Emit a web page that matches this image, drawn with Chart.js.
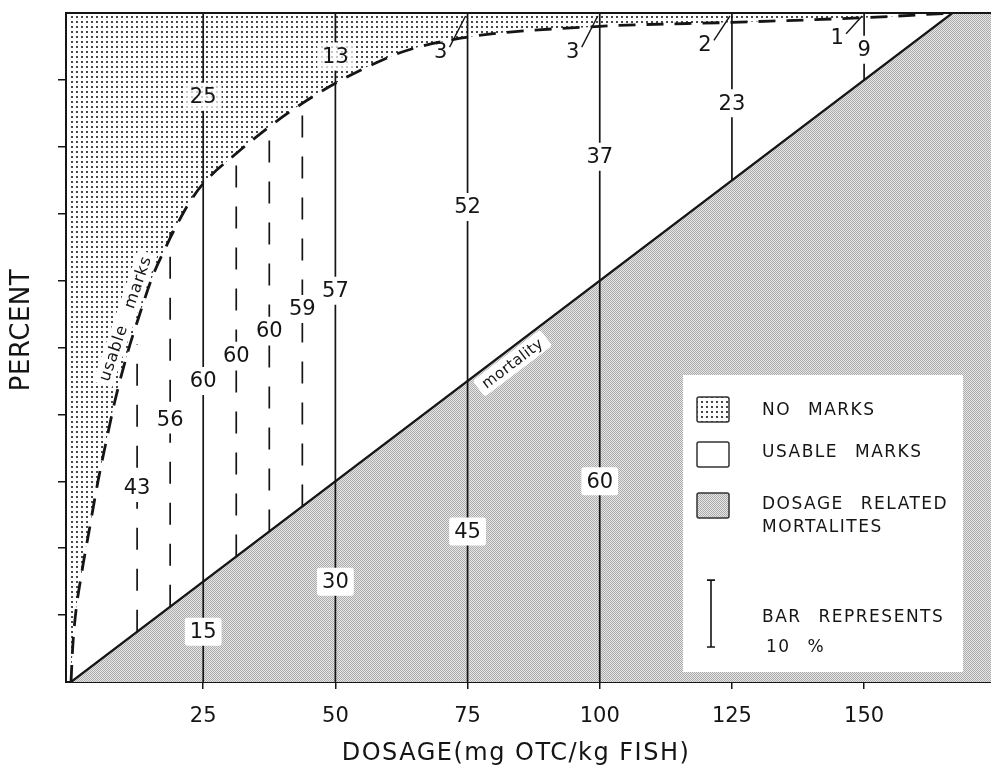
<!DOCTYPE html>
<html>
<head>
<meta charset="utf-8">
<script src="https://cdn.jsdelivr.net/npm/chart.js@4.4.1/dist/chart.umd.min.js"></script>
<style>
  html, body { margin: 0; padding: 0; background: #fff; }
</style>
</head>
<body>
<canvas id="chart" width="991" height="769"></canvas>
<script>
// doses with a solid bar (mg OTC / kg fish) and the percent split at each
const solidDoses = [25, 50, 75, 100, 125, 150];
const solidMortality = [15, 30, 45, 60, 75, 90];
const mortalityShown = [true, true, true, true, false, false];
const solidUsable = [60, 57, 52, 37, 23, 9];
const solidNoMarks = [25, 13, 3, 3, 2, 1];

// in-between doses with a dashed bar
const dashedDoses = [12.5, 18.75, 31.25, 37.5, 43.75];
const dashedMortality = [7.5, 11.25, 18.75, 22.5, 26.25];
const dashedUsable = [43, 56, 60, 60, 59];

// upper edge of "usable marks" as drawn
const edgeDose = [0, 0.3, 0.8, 2.1, 3.4, 5.1, 6.8, 8.3, 10.8, 13, 15.5, 17.8, 20, 22.1, 25, 31.25, 37.5, 43.75, 50, 57, 63.5, 75, 100, 125, 150, 166.7];
const edgePct = [0, 5, 9.7, 16.7, 22.5, 30, 36.5, 42, 49.5, 55, 60.8, 64.8, 68.3, 71.3, 74.5, 79, 83, 86.5, 89.5, 92.3, 94.4, 96.4, 98, 98.6, 99.3, 100];

// mortality line
const mortDose = [0, 166.7, 175];
const mortPct = [0, 100, 100];

const xTicks = [25, 50, 75, 100, 125, 150];
const yTicks = [10, 20, 30, 40, 50, 60, 70, 80, 90];

const INK = '#151515';
const FONT = '"DejaVu Sans", sans-serif';

function tile(size, paint) {
  const c = document.createElement('canvas');
  c.width = size; c.height = size;
  const g = c.getContext('2d');
  paint(g);
  return g.createPattern(c, 'repeat');
}
const dots = tile(5, g => {
  g.fillStyle = '#fff'; g.fillRect(0, 0, 5, 5);
  g.fillStyle = '#474747'; g.fillRect(1, 1, 2, 2);
});
const stipple = tile(2, g => {
  g.fillStyle = '#e6e6e6'; g.fillRect(0, 0, 2, 2);
  g.fillStyle = '#acacac'; g.fillRect(0, 0, 1, 1); g.fillRect(1, 1, 1, 1);
});

const pts = (xs, ys) => xs.map((v, i) => ({ x: v, y: ys[i] }));

const datasets = [
  {
    data: pts(edgeDose, edgePct),
    borderColor: INK, borderWidth: 2.8, borderDash: [17, 11],
    cubicInterpolationMode: 'monotone',
    fill: 'end', backgroundColor: dots
  },
  {
    data: pts(mortDose, mortPct),
    borderColor: INK, borderWidth: 2.2,
    fill: 'start', backgroundColor: stipple
  }
];
solidDoses.forEach((d, i) => {
  const bottom = mortalityShown[i] ? 0 : solidMortality[i];
  datasets.push({
    data: [{ x: d, y: bottom }, { x: d, y: 100 }],
    borderColor: INK, borderWidth: 1.7, fill: false
  });
});
dashedDoses.forEach((d, i) => {
  datasets.push({
    data: [{ x: d, y: dashedMortality[i] }, { x: d, y: dashedMortality[i] + dashedUsable[i] }],
    borderColor: INK, borderWidth: 1.7, borderDash: [22, 19], fill: false
  });
});

function label(ctx, text, px, py, bg) {
  ctx.save();
  ctx.font = '21px ' + FONT;
  const w = ctx.measureText(text).width + 10, h = 28;
  if (bg) {
    ctx.fillStyle = '#fff';
    ctx.beginPath();
    ctx.roundRect(px - w / 2, py - h / 2, w, h, 3);
    ctx.fill();
    if (bg === 'faded') {
      ctx.globalAlpha = 0.3;
      ctx.fillStyle = dots;
      ctx.fill();
      ctx.globalAlpha = 1;
    }
  }
  ctx.fillStyle = INK;
  ctx.textAlign = 'center';
  ctx.textBaseline = 'middle';
  ctx.fillText(text, px, py + 1);
  ctx.restore();
}

const decor = {
  id: 'decor',
  beforeDatasetsDraw(chart) {
    const { ctx, scales: { x, y } } = chart;
    // "usable marks" written along the edge
    ctx.save();
    ctx.translate(x.getPixelForValue(10.4), y.getPixelForValue(54.3));
    ctx.rotate(-71 * Math.PI / 180);
    ctx.font = '16px ' + FONT;
    ctx.letterSpacing = '1px';
    const t = 'usable   marks';
    const w = ctx.measureText(t).width;
    ctx.fillStyle = '#fff';
    ctx.fillRect(-w / 2 - 4, -11, w + 8, 20);
    ctx.fillStyle = INK;
    ctx.textAlign = 'center';
    ctx.textBaseline = 'middle';
    ctx.fillText(t, 0, 0);
    ctx.restore();
  },
  afterDatasetsDraw(chart) {
    const { ctx, chartArea: a, scales: { x, y } } = chart;

    // top frame line
    ctx.save();
    ctx.strokeStyle = INK; ctx.lineWidth = 2;
    ctx.beginPath(); ctx.moveTo(a.left, a.top); ctx.lineTo(a.right, a.top); ctx.stroke();
    ctx.restore();

    solidDoses.forEach((d, i) => {
      const px = x.getPixelForValue(d);
      const m = solidMortality[i], u = solidUsable[i], n = solidNoMarks[i];
      label(ctx, String(u), px, y.getPixelForValue(m + u / 2), 'white');
      if (mortalityShown[i]) label(ctx, String(m), px, y.getPixelForValue(m / 2), 'white');
      if (n >= 5) {
        label(ctx, String(n), px, y.getPixelForValue(m + u + n / 2), 'faded');
      } else {
        const ly = y.getPixelForValue(100 - n) + 18;
        label(ctx, String(n), px - 27, ly, null);
        ctx.save();
        ctx.strokeStyle = INK; ctx.lineWidth = 1.4;
        ctx.beginPath();
        ctx.moveTo(px - 18, ly - 4);
        ctx.lineTo(px - 2, y.getPixelForValue(100) + 3);
        ctx.stroke();
        ctx.restore();
      }
    });
    dashedDoses.forEach((d, i) => {
      const m = dashedMortality[i], u = dashedUsable[i];
      label(ctx, String(u), x.getPixelForValue(d), y.getPixelForValue(m + u / 2), 'white');
    });

    // "mortality" written under the mortality line
    const x1 = x.getPixelForValue(mortDose[0]), y1 = y.getPixelForValue(mortPct[0]);
    const x2 = x.getPixelForValue(mortDose[1]), y2 = y.getPixelForValue(mortPct[1]);
    const ang = Math.atan2(y2 - y1, x2 - x1);
    const f = 82 / mortDose[1];
    ctx.save();
    ctx.translate(x1 + f * (x2 - x1) - Math.sin(ang) * 13, y1 + f * (y2 - y1) + Math.cos(ang) * 13);
    ctx.rotate(ang);
    ctx.font = '15px ' + FONT;
    ctx.letterSpacing = '0.5px';
    const mw = ctx.measureText('mortality').width;
    ctx.fillStyle = '#fff';
    ctx.beginPath(); ctx.roundRect(-mw / 2 - 6, -10, mw + 12, 20, 3); ctx.fill();
    ctx.fillStyle = INK; ctx.textAlign = 'center'; ctx.textBaseline = 'middle';
    ctx.fillText('mortality', 0, 1);
    ctx.restore();

    // legend panel
    ctx.save();
    ctx.fillStyle = '#fff';
    ctx.fillRect(683, 375, 280, 297);
    const sw = [[397, dots], [442, '#fff'], [493, stipple]];
    sw.forEach(([sy, fill]) => {
      ctx.beginPath(); ctx.roundRect(697, sy, 32, 25, 2);
      ctx.fillStyle = fill; ctx.fill();
      ctx.strokeStyle = '#333'; ctx.lineWidth = 1.5; ctx.stroke();
    });
    ctx.font = '17px ' + FONT;
    ctx.letterSpacing = '1.5px';
    ctx.wordSpacing = '10px';
    ctx.fillStyle = INK; ctx.textAlign = 'left'; ctx.textBaseline = 'middle';
    ctx.fillText('NO MARKS', 762, 411);
    ctx.fillText('USABLE MARKS', 762, 453);
    ctx.fillText('DOSAGE RELATED', 762, 505);
    ctx.fillText('MORTALITES', 762, 528);
    ctx.fillText('BAR REPRESENTS', 762, 618);
    ctx.fillText('10 %', 766, 648);
    // scale bar = 10 %
    const bl = y.getPixelForValue(0) - y.getPixelForValue(10);
    const bb = 647, bx = 711;
    ctx.strokeStyle = INK; ctx.lineWidth = 1.6;
    ctx.beginPath();
    ctx.moveTo(bx, bb); ctx.lineTo(bx, bb - bl);
    ctx.moveTo(bx - 4, bb); ctx.lineTo(bx + 4, bb);
    ctx.moveTo(bx - 4, bb - bl); ctx.lineTo(bx + 4, bb - bl);
    ctx.stroke();
    ctx.restore();
  },
  afterDraw(chart) {
    const { ctx } = chart;
    ctx.save();
    ctx.fillStyle = INK;
    ctx.textAlign = 'center'; ctx.textBaseline = 'middle';
    ctx.font = '24px ' + FONT;
    ctx.letterSpacing = '1.5px';
    ctx.fillText('DOSAGE(mg OTC/kg FISH)', 516, 754);
    ctx.translate(22, 330);
    ctx.rotate(-Math.PI / 2);
    ctx.font = '26px ' + FONT;
    ctx.letterSpacing = '0.5px';
    ctx.fillText('PERCENT', 0, 0);
    ctx.restore();
  }
};

new Chart(document.getElementById('chart'), {
  type: 'line',
  data: { datasets },
  plugins: [decor],
  options: {
    responsive: false,
    animation: false,
    devicePixelRatio: 1,
    layout: { padding: { top: 13, left: 0, right: 0, bottom: 0 } },
    elements: { point: { radius: 0 }, line: { tension: 0 } },
    plugins: {
      legend: { display: false },
      tooltip: { enabled: false },
      filler: { drawTime: 'beforeDatasetsDraw' }
    },
    scales: {
      x: {
        type: 'linear', min: -0.95, max: 174,
        afterBuildTicks: s => { s.ticks = xTicks.map(v => ({ value: v })); },
        afterFit: s => { s.height = 87; },
        grid: { drawOnChartArea: false, tickLength: 7, color: INK, lineWidth: 1.5 },
        border: { color: INK, width: 2 },
        ticks: { color: INK, font: { family: FONT, size: 21 }, padding: 15, maxRotation: 0, autoSkip: false }
      },
      y: {
        type: 'linear', min: 0, max: 100,
        afterBuildTicks: s => { s.ticks = yTicks.map(v => ({ value: v })); },
        afterFit: s => { s.width = 66; },
        grid: { drawOnChartArea: false, tickLength: 8, color: INK, lineWidth: 1.5 },
        border: { color: INK, width: 2 },
        ticks: { display: false }
      }
    }
  }
});
</script>
</body>
</html>
